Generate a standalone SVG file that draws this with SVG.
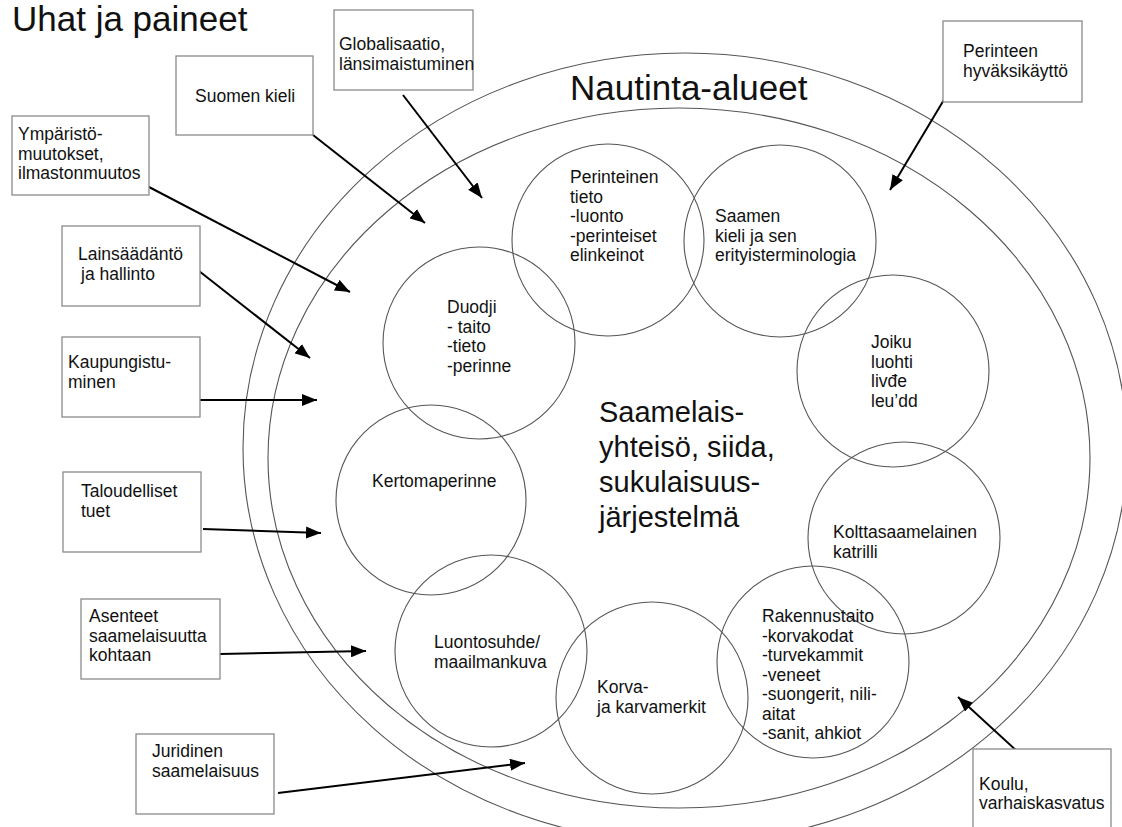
<svg xmlns="http://www.w3.org/2000/svg" width="1122" height="827" viewBox="0 0 1122 827">
<style>
text{font-family:"Liberation Sans",Arial,sans-serif;fill:#111}
.t{font-size:17.5px}
.big{font-size:35px}
.mid{font-size:29px}
.box{fill:#fff;stroke:#8a8a8a;stroke-width:1.3}
.circ{fill:none;stroke:#555;stroke-width:1.1}
.ell{fill:none;stroke:#555;stroke-width:1.1}
.arr{stroke:#000;stroke-width:2;fill:none;marker-end:url(#ah)}
</style>
<defs>
<marker id="ah" markerUnits="userSpaceOnUse" markerWidth="16" markerHeight="12" refX="15" refY="6" orient="auto">
<path d="M0,0 L15,6 L0,12 z" fill="#000"/>
</marker>
</defs>
<rect width="1122" height="827" fill="#fff"/>
<text class="big" x="12" y="31">Uhat ja paineet</text>
<g id="areas">
<ellipse class="ell" cx="685" cy="448" rx="442" ry="395"/>
<ellipse class="ell" cx="679" cy="458" rx="411" ry="350"/>
<text class="big" x="570" y="100">Nautinta-alueet</text>
</g>
<g id="center">
<text class="mid"><tspan x="599" y="422">Saamelais-</tspan><tspan x="599" y="457">yhteisö, siida,</tspan><tspan x="599" y="492">sukulaisuus-</tspan><tspan x="599" y="527">järjestelmä</tspan></text>
</g>
<g id="c-perinteinen"><circle class="circ" cx="608" cy="240" r="96"/>
<text class="t"><tspan x="570" y="183">Perinteinen</tspan><tspan x="570" dy="19.6">tieto</tspan><tspan x="570" dy="19.6">-luonto</tspan><tspan x="570" dy="19.6">-perinteiset</tspan><tspan x="570" dy="19.6">elinkeinot</tspan></text></g>
<g id="c-saamen"><circle class="circ" cx="780" cy="241" r="96"/>
<text class="t"><tspan x="715" y="222">Saamen</tspan><tspan x="715" dy="19.6">kieli ja sen</tspan><tspan x="715" dy="19.6">erityisterminologia</tspan></text></g>
<g id="c-duodji"><circle class="circ" cx="479" cy="343" r="96"/>
<text class="t"><tspan x="447" y="313">Duodji</tspan><tspan x="447" dy="19.6">- taito</tspan><tspan x="447" dy="19.6">-tieto</tspan><tspan x="447" dy="19.6">-perinne</tspan></text></g>
<g id="c-joiku"><circle class="circ" cx="893" cy="371" r="96"/>
<text class="t"><tspan x="871" y="348">Joiku</tspan><tspan x="871" dy="19.6">luohti</tspan><tspan x="871" dy="19.6">livđe</tspan><tspan x="871" dy="19.6">leu’dd</tspan></text></g>
<g id="c-kertoma"><circle class="circ" cx="431" cy="500" r="95"/>
<text class="t" x="372" y="487">Kertomaperinne</text></g>
<g id="c-koltta"><circle class="circ" cx="904" cy="538" r="96"/>
<text class="t"><tspan x="833" y="538">Kolttasaamelainen</tspan><tspan x="833" dy="19.6">katrilli</tspan></text></g>
<g id="c-luonto"><circle class="circ" cx="491" cy="651" r="96"/>
<text class="t"><tspan x="434" y="648">Luontosuhde/</tspan><tspan x="434" dy="19.6">maailmankuva</tspan></text></g>
<g id="c-korva"><circle class="circ" cx="652" cy="698" r="96"/>
<text class="t"><tspan x="597" y="693">Korva-</tspan><tspan x="597" dy="19.6">ja karvamerkit</tspan></text></g>
<g id="c-rakennus"><circle class="circ" cx="813" cy="662" r="96"/>
<text class="t"><tspan x="762" y="622">Rakennustaito</tspan><tspan x="762" dy="19.5">-korvakodat</tspan><tspan x="762" dy="19.5">-turvekammit</tspan><tspan x="762" dy="19.5">-veneet</tspan><tspan x="762" dy="19.5">-suongerit, nili-</tspan><tspan x="762" dy="19.5">aitat</tspan><tspan x="762" dy="19.5">-sanit, ahkiot</tspan></text></g>
<g id="connectors">
<line class="arr" x1="403" y1="95" x2="482" y2="198"/>
<line class="arr" x1="313" y1="135" x2="425" y2="223"/>
<line class="arr" x1="149" y1="187" x2="350" y2="292"/>
<line class="arr" x1="199" y1="271" x2="310" y2="358"/>
<line class="arr" x1="200" y1="400" x2="317" y2="400"/>
<line class="arr" x1="203" y1="529" x2="321" y2="533"/>
<line class="arr" x1="220" y1="654" x2="366" y2="651"/>
<line class="arr" x1="278" y1="793" x2="525" y2="763"/>
<line class="arr" x1="945" y1="98" x2="890" y2="190"/>
<line class="arr" x1="1018" y1="752" x2="958" y2="697"/>
</g>
<g id="b-global"><rect class="box" x="334" y="10" width="139" height="80"/>
<text class="t"><tspan x="339" y="50">Globalisaatio,</tspan><tspan x="339" y="70">länsimaistuminen</tspan></text></g>
<g id="b-suomen"><rect class="box" x="176" y="56" width="137" height="79"/>
<text class="t" x="195" y="102">Suomen kieli</text></g>
<g id="b-ymparisto"><rect class="box" x="12" y="116" width="137" height="79"/>
<text class="t"><tspan x="18" y="140">Ympäristö-</tspan><tspan x="18" y="160">muutokset,</tspan><tspan x="18" y="179">ilmastonmuutos</tspan></text></g>
<g id="b-laki"><rect class="box" x="62" y="226" width="138" height="80"/>
<text class="t"><tspan x="78" y="260">Lainsäädäntö</tspan><tspan x="81" y="280">ja hallinto</tspan></text></g>
<g id="b-kaupunki"><rect class="box" x="62" y="337" width="138" height="80"/>
<text class="t"><tspan x="68" y="368">Kaupungistu-</tspan><tspan x="68" y="388">minen</tspan></text></g>
<g id="b-talous"><rect class="box" x="63" y="472" width="138" height="80"/>
<text class="t"><tspan x="81" y="497">Taloudelliset</tspan><tspan x="81" y="517">tuet</tspan></text></g>
<g id="b-asenteet"><rect class="box" x="81" y="599" width="139" height="80"/>
<text class="t"><tspan x="89" y="622">Asenteet</tspan><tspan x="89" y="642">saamelaisuutta</tspan><tspan x="89" y="661">kohtaan</tspan></text></g>
<g id="b-juridinen"><rect class="box" x="136" y="734" width="138" height="80"/>
<text class="t"><tspan x="152" y="757">Juridinen</tspan><tspan x="152" y="777">saamelaisuus</tspan></text></g>
<g id="b-perinteen"><rect class="box" x="943" y="21" width="139" height="81"/>
<text class="t"><tspan x="963" y="57">Perinteen</tspan><tspan x="963" y="77">hyväksikäyttö</tspan></text></g>
<g id="b-koulu"><rect class="box" x="973" y="749" width="138" height="82"/>
<text class="t"><tspan x="979" y="790">Koulu,</tspan><tspan x="979" y="809">varhaiskasvatus</tspan></text></g>
</svg>
